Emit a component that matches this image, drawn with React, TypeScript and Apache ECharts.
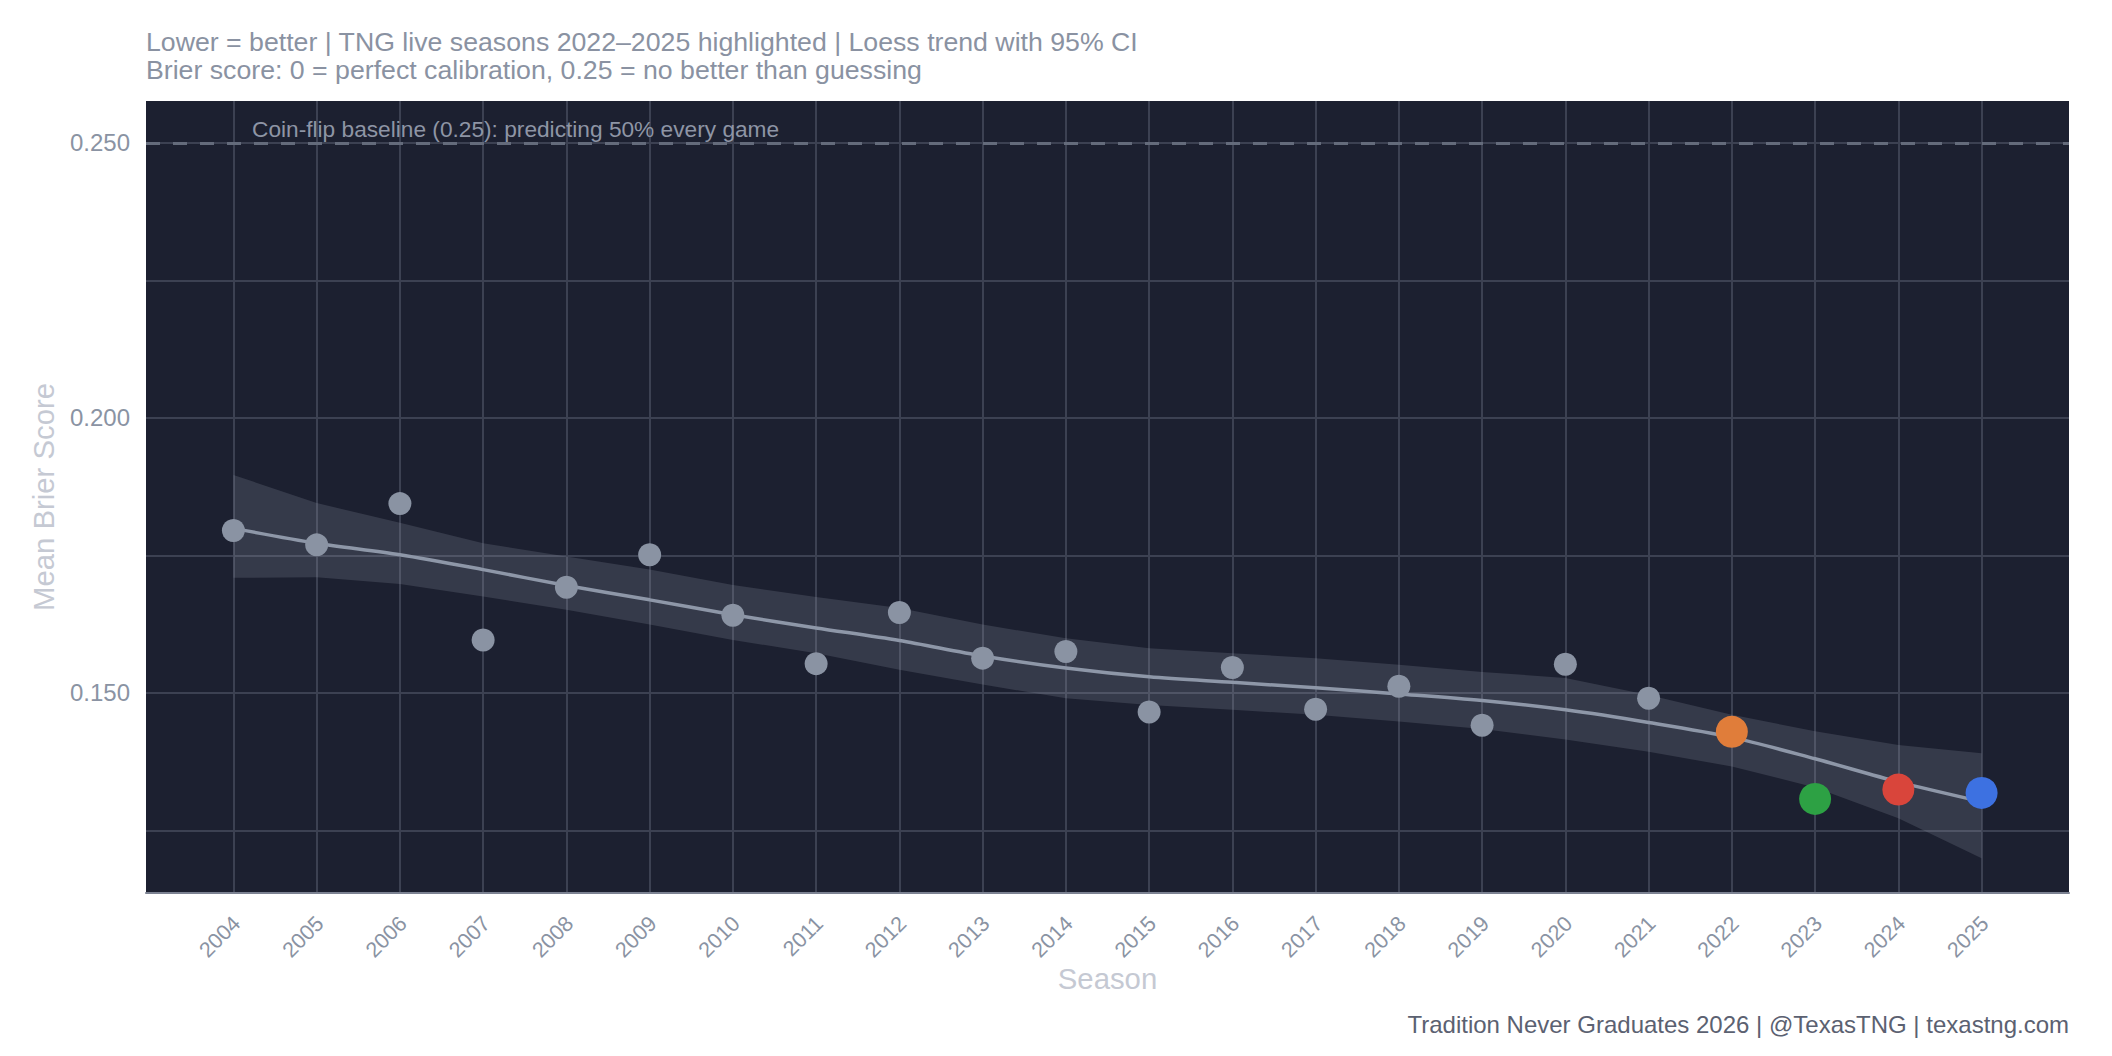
import React, { useEffect, useRef } from "react";
import * as echarts from "echarts";

const seasons = [2004, 2005, 2006, 2007, 2008, 2009, 2010, 2011, 2012, 2013, 2014, 2015, 2016, 2017, 2018, 2019, 2020, 2021, 2022, 2023, 2024, 2025];
const brier = [0.1795, 0.1769, 0.1844, 0.1596, 0.1692, 0.1751, 0.1641, 0.1553, 0.1646, 0.1563, 0.1575, 0.1465, 0.1546, 0.1470, 0.1512, 0.1441, 0.1552, 0.1490, 0.1429, 0.1307, 0.1324, 0.1318];
const trend = [0.1799, 0.1772, 0.1751, 0.1724, 0.1695, 0.1669, 0.1642, 0.1618, 0.1595, 0.1567, 0.1545, 0.1529, 0.1519, 0.1509, 0.1498, 0.1486, 0.1469, 0.1446, 0.1419, 0.1380, 0.1338, 0.1302];
const ciUpper = [0.1896, 0.1845, 0.1809, 0.1772, 0.1748, 0.1724, 0.1696, 0.1674, 0.1654, 0.1624, 0.1599, 0.1581, 0.1572, 0.1563, 0.1551, 0.1538, 0.1527, 0.1496, 0.1460, 0.1430, 0.1405, 0.1390];
const ciLower = [0.1709, 0.1710, 0.1698, 0.1675, 0.1651, 0.1624, 0.1596, 0.1572, 0.1542, 0.1515, 0.1490, 0.1478, 0.1469, 0.1460, 0.1448, 0.1434, 0.1415, 0.1393, 0.1366, 0.1328, 0.1272, 0.1199];
const liveSeasons = [2022, 2023, 2024, 2025];
const liveColors = ["#e07d3a", "#2da144", "#d9453b", "#3d71e1"];
const yTickLabels = [0.15, 0.2, 0.25];
const yGridValues = [0.125, 0.15, 0.175, 0.2, 0.225, 0.25];
const baseline = 0.25;

const subtitle1 = "Lower = better | TNG live seasons 2022–2025 highlighted | Loess trend with 95% CI";
const subtitle2 = "Brier score: 0 = perfect calibration, 0.25 = no better than guessing";
const baselineNote = "Coin-flip baseline (0.25): predicting 50% every game";
const caption = "Tradition Never Graduates 2026 | @TexasTNG | texastng.com";
const xTitle = "Season";
const yTitle = "Mean Brier Score";

const FONT = "'Liberation Sans', Arial, Helvetica, sans-serif";

export default function App() {
  const ref = useRef<HTMLDivElement>(null);

  useEffect(() => {
    if (!ref.current) return;
    const chart = echarts.init(ref.current, null, { renderer: "svg" });

    const pointData = seasons.map((s, i) => {
      const li = liveSeasons.indexOf(s);
      return {
        value: [s, brier[i]],
        symbolSize: li >= 0 ? 32 : 23,
        itemStyle: { color: li >= 0 ? liveColors[li] : "#8a93a3", opacity: 1 },
      };
    });

    const option: any = {
      animation: false,
      backgroundColor: "#ffffff",
      textStyle: { fontFamily: FONT },
      grid: {
        left: 146,
        right: 43,
        top: 101,
        bottom: 163,
        show: true,
        backgroundColor: "#1c2030",
        borderWidth: 0,
        containLabel: false,
      },
      xAxis: {
        type: "value",
        min: 2002.95,
        max: 2026.05,
        name: xTitle,
        nameLocation: "middle",
        nameMoveOverlap: false,
        nameGap: 71,
        nameTextStyle: { color: "#c5c9d3", fontSize: 29.3, fontFamily: FONT },
        axisLine: { show: true, lineStyle: { color: "#7c8292", width: 2 } },
        axisTick: { show: false, customValues: seasons },
        axisLabel: {
          customValues: seasons.map((s) => s + 0.04),
          formatter: (v: number) => String(Math.round(v)),
          rotate: 45,
          margin: 27,
          color: "#8a93a3",
          fontSize: 21.5,
          fontFamily: FONT,
        },
        splitLine: { show: true, lineStyle: { color: "#3c4152", width: 2 } },
      },
      yAxis: {
        type: "value",
        min: 0.1136,
        max: 0.2576,
        name: yTitle,
        nameLocation: "middle",
        nameMoveOverlap: false,
        nameGap: 88,
        nameTextStyle: { color: "#c5c9d3", fontSize: 29.3, fontFamily: FONT },
        axisLine: { show: false },
        axisTick: { show: false, customValues: yGridValues },
        axisLabel: {
          customValues: yTickLabels,
          formatter: (v: number) => v.toFixed(3),
          margin: 16,
          color: "#8a93a3",
          fontSize: 24,
          fontFamily: FONT,
        },
        splitLine: { show: true, lineStyle: { color: "#3c4152", width: 2 } },
      },
      series: [
        {
          type: "custom",
          name: "ci",
          silent: true,
          z: 1,
          data: [[seasons[0], ciUpper[0]]],
          renderItem: (_params: any, api: any) => {
            const pts: number[][] = [];
            for (let i = 0; i < seasons.length; i++) pts.push(api.coord([seasons[i], ciUpper[i]]));
            for (let i = seasons.length - 1; i >= 0; i--) pts.push(api.coord([seasons[i], ciLower[i]]));
            return {
              type: "polygon",
              shape: { points: pts },
              style: { fill: "rgba(165,168,185,0.19)", stroke: "none" },
            };
          },
        },
        {
          type: "line",
          name: "trend",
          z: 3,
          smooth: 0.3,
          showSymbol: false,
          silent: true,
          data: seasons.map((s, i) => [s, trend[i]]),
          lineStyle: { color: "#8e97a8", width: 3.5 },
          markLine: {
            silent: true,
            symbol: ["none", "none"],
            label: { show: false },
            lineStyle: { color: "#646b7b", width: 3, type: [14, 13] },
            data: [{ yAxis: baseline }],
          },
        },
        {
          type: "scatter",
          name: "points",
          z: 4,
          silent: true,
          data: pointData,
        },
      ],
      graphic: [
        {
          type: "text",
          left: 146,
          top: 28,
          style: { text: subtitle1, fontSize: 26.7, fill: "#8a92a2", fontFamily: FONT },
        },
        {
          type: "text",
          left: 146,
          top: 56,
          style: { text: subtitle2, fontSize: 26.7, fill: "#8a92a2", fontFamily: FONT },
        },
        {
          type: "text",
          left: 252,
          top: 117,
          z: 10,
          style: { text: baselineNote, fontSize: 22.7, fill: "#8e95a5", fontFamily: FONT },
        },
        {
          type: "text",
          right: 43,
          top: 1012,
          style: { text: caption, fontSize: 24, fill: "#5b6171", fontFamily: FONT },
        },
      ],
    };

    chart.setOption(option);
    return () => chart.dispose();
  }, []);

  return (
    <div
      ref={ref}
      style={{ position: "fixed", left: 0, top: 0, width: 2112, height: 1056, background: "#ffffff" }}
    />
  );
}
